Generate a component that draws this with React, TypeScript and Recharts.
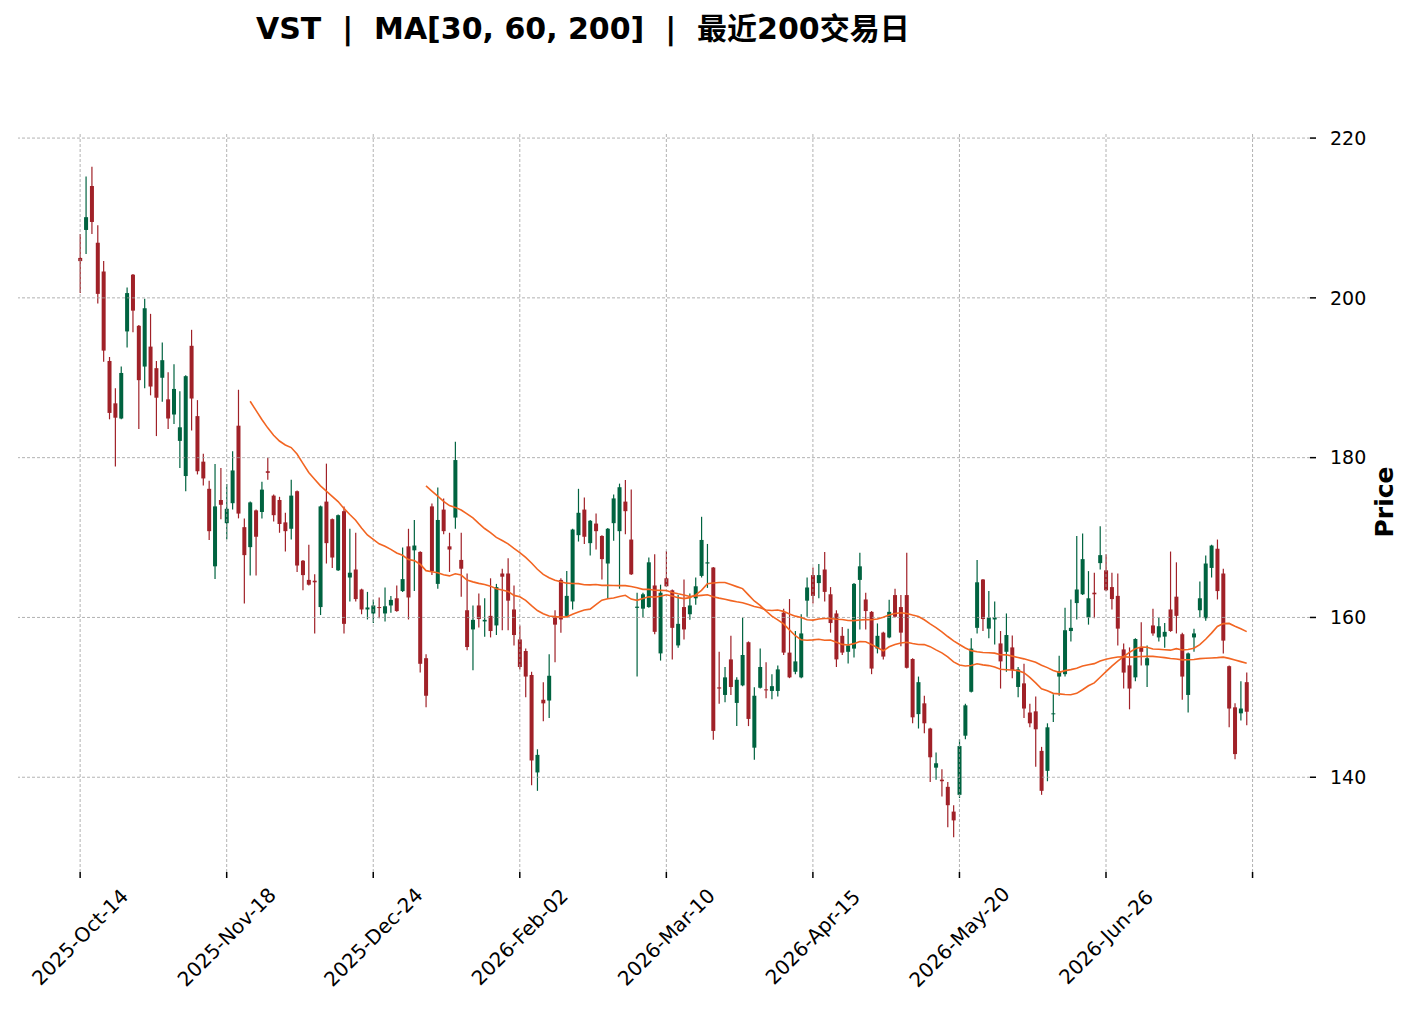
import React from "react";
import {
  ComposedChart,
  Bar,
  Line,
  XAxis,
  YAxis,
  ReferenceLine,
} from "recharts";

// OHLC, one entry per trading day (200 days)
const opens = [
  205.0, 208.5, 214.0, 206.9, 203.3, 192.1, 186.8, 184.9, 195.8, 202.9,
  196.5, 191.4, 193.9, 191.2, 190.0, 187.3, 185.4, 182.1, 177.7, 194.0,
  185.2, 179.5, 176.1, 166.4, 174.7, 171.8, 174.3, 184.0, 171.3, 168.8,
  173.4, 173.2, 178.3, 175.25, 174.7, 171.9, 171.1, 175.8, 167.1, 164.7,
  164.6, 161.3, 174.5, 172.3, 165.9, 173.3, 165.0, 166.0, 163.5, 161.0,
  160.5, 161.3, 160.5, 161.5, 162.4, 163.3, 168.9, 168.4, 168.2, 154.9,
  173.9, 164.2, 173.5, 168.9, 172.5, 167.2, 160.9, 158.5, 161.5, 159.5,
  160.2, 159.0, 165.5, 165.5, 161.0, 157.25, 155.8, 152.8, 140.6, 149.7,
  149.6, 160.0, 164.7, 160.2, 162.0, 170.3, 173.5, 169.3, 171.75, 170.2,
  166.75, 171.8, 170.8, 174.5, 169.75, 161.2, 161.1, 161.3, 164.0, 155.5,
  164.9, 163.4, 156.5, 161.3, 160.4, 162.4, 165.2, 166.75, 166.25, 151.25,
  150.3, 154.75, 149.3, 151.5, 156.9, 143.7, 151.2, 151.0, 150.8, 150.8,
  160.6, 155.6, 153.2, 152.5, 162.1, 165.3, 164.3, 166.0, 162.9, 160.5,
  157.7, 155.7, 156.1, 164.7, 162.25, 160.7, 156.1, 158.1, 157.5, 162.8,
  161.3, 162.8, 154.8, 147.9, 149.25, 146.1, 141.2, 139.7, 138.8, 135.7,
  137.8, 145.2, 150.7, 158.7, 164.75, 158.6, 159.75, 156.75, 155.7, 156.25,
  151.3, 151.75, 148.1, 148.25, 143.3, 140.8, 147.9, 152.6, 152.9, 158.3,
  161.8, 162.9, 160.0, 163.1, 166.8, 165.9, 163.8, 162.7, 156.0, 154.0,
  152.5, 156.2, 154.0, 159.0, 157.5, 157.6, 161.0, 162.6, 157.9, 150.3,
  157.5, 160.9, 159.9, 166.2, 168.6, 165.5, 153.9, 148.75, 148.0, 151.9,
];

const highs = [
  208.0, 215.2, 216.4, 209.1, 204.6, 192.6, 188.7, 191.4, 201.3, 203.0,
  196.6, 199.9, 198.0, 192.1, 194.4, 190.7, 191.7, 188.3, 190.3, 196.0,
  187.2, 180.5, 177.1, 179.2, 178.7, 176.7, 180.8, 188.5, 172.4, 174.5,
  173.5, 177.0, 180.0, 175.4, 175.1, 173.1, 177.25, 175.9, 167.2, 169.1,
  165.4, 174.0, 179.25, 172.4, 172.9, 173.9, 171.1, 170.6, 163.6, 163.2,
  162.2, 162.5, 163.75, 162.7, 164.0, 168.75, 171.1, 172.2, 168.3, 155.4,
  174.25, 176.25, 174.9, 170.6, 182.0, 170.6, 165.5, 161.5, 163.0, 162.4,
  164.9, 164.2, 166.1, 167.4, 164.0, 159.0, 156.1, 153.2, 143.5, 151.9,
  155.4, 160.9, 164.9, 165.8, 171.1, 176.1, 175.0, 172.2, 173.0, 170.3,
  171.2, 175.4, 176.75, 177.2, 176.0, 163.1, 163.1, 167.5, 167.9, 164.1,
  168.3, 163.5, 162.8, 164.75, 163.0, 165.0, 172.6, 169.2, 166.3, 155.7,
  153.8, 157.7, 152.5, 160.0, 157.0, 151.25, 156.1, 154.4, 152.9, 154.0,
  161.1, 162.3, 158.3, 160.4, 165.0, 166.25, 166.7, 168.2, 163.8, 160.9,
  158.8, 158.6, 164.3, 168.1, 163.1, 160.8, 159.25, 158.2, 162.2, 163.6,
  162.8, 168.1, 154.9, 152.6, 150.2, 146.2, 143.1, 141.0, 139.4, 136.5,
  144.75, 149.2, 157.4, 167.2, 164.8, 163.3, 162.0, 158.3, 160.5, 157.75,
  153.8, 154.2, 149.2, 150.1, 143.8, 146.75, 150.4, 155.2, 161.2, 162.25,
  170.2, 170.5, 165.8, 165.6, 171.4, 167.9, 165.6, 165.5, 156.75, 156.25,
  157.4, 159.4, 156.5, 161.1, 160.0, 159.3, 168.25, 166.9, 158.1, 155.6,
  158.6, 164.5, 167.75, 169.1, 169.75, 166.1, 154.0, 149.25, 152.0, 153.1,
];

const lows = [
  200.6, 205.5, 208.0, 199.3, 192.0, 184.8, 178.9, 184.8, 193.8, 195.7,
  183.6, 188.7, 187.8, 182.7, 187.0, 183.6, 184.2, 178.7, 175.8, 183.4,
  177.9, 176.5, 169.7, 164.8, 172.3, 169.8, 173.5, 172.4, 161.75, 165.25,
  165.25, 172.4, 177.25, 172.0, 170.6, 168.25, 169.75, 165.7, 163.4, 164.0,
  158.0, 160.3, 166.75, 166.2, 165.8, 158.0, 162.0, 162.0, 160.4, 159.75,
  159.3, 159.9, 159.5, 160.6, 160.7, 163.2, 159.75, 163.3, 153.1, 148.75,
  165.3, 163.6, 170.4, 165.7, 171.1, 162.6, 155.9, 153.4, 158.75, 157.6,
  157.5, 157.8, 158.4, 158.4, 156.5, 153.5, 150.0, 139.0, 138.3, 147.0,
  147.4, 154.4, 158.1, 160.1, 161.0, 169.5, 169.2, 167.75, 168.5, 164.75,
  162.4, 169.6, 163.6, 170.4, 165.3, 152.6, 160.0, 161.2, 157.9, 154.6,
  163.8, 154.75, 156.2, 157.25, 159.7, 161.6, 165.0, 163.7, 144.7, 149.2,
  149.4, 150.3, 146.4, 151.4, 146.4, 142.2, 151.1, 149.9, 149.75, 150.1,
  155.3, 152.4, 152.9, 152.4, 160.1, 161.75, 162.4, 162.0, 158.1, 153.8,
  155.3, 154.25, 155.0, 158.5, 158.5, 152.9, 155.5, 154.75, 157.4, 160.0,
  156.4, 153.6, 146.75, 146.1, 145.5, 139.4, 139.7, 137.6, 133.75, 132.5,
  137.4, 144.75, 150.6, 158.0, 158.3, 157.4, 156.6, 151.1, 153.2, 152.4,
  150.0, 147.4, 146.25, 141.3, 137.8, 139.5, 146.9, 150.2, 152.6, 157.0,
  159.75, 162.8, 159.1, 159.9, 166.0, 163.3, 161.0, 156.5, 151.1, 148.5,
  152.0, 154.0, 151.3, 157.7, 157.0, 156.2, 158.2, 158.0, 149.7, 148.1,
  155.7, 160.0, 159.6, 165.0, 162.25, 155.5, 146.25, 142.25, 147.1, 146.5,
];

const closes = [
  204.6, 210.1, 209.5, 200.5, 193.4, 185.6, 185.0, 190.6, 200.6, 198.4,
  189.7, 198.7, 188.9, 187.5, 192.2, 184.9, 188.6, 183.8, 190.2, 187.4,
  178.3, 177.4, 170.8, 173.9, 174.1, 173.6, 178.4, 173.0, 167.8, 174.4,
  170.1, 176.0, 178.1, 172.8, 171.7, 170.8, 175.25, 166.5, 165.3, 164.1,
  164.4, 173.9, 169.3, 167.5, 172.8, 159.2, 165.6, 162.3, 161.0, 161.25,
  161.5, 161.2, 161.4, 162.2, 160.8, 164.8, 162.5, 169.0, 154.2, 150.2,
  165.8, 172.2, 170.8, 168.5, 179.7, 166.1, 156.3, 159.7, 159.8, 159.7,
  158.3, 163.8, 165.1, 162.1, 157.8, 153.8, 152.6, 142.1, 142.8, 149.25,
  152.7, 159.1, 159.75, 162.7, 171.0, 173.1, 170.1, 172.1, 170.8, 167.3,
  171.1, 174.9, 176.3, 173.3, 165.4, 161.35, 162.9, 166.9, 158.2, 163.1,
  163.9, 158.7, 159.2, 158.5, 161.5, 163.9, 169.7, 166.9, 145.8, 151.1,
  152.5, 151.3, 152.2, 155.3, 147.3, 150.2, 153.8, 150.9, 151.4, 153.5,
  155.6, 152.5, 154.5, 158.0, 163.75, 162.7, 165.3, 163.2, 159.3, 154.75,
  155.6, 156.5, 164.2, 166.4, 160.8, 153.6, 157.7, 155.1, 160.7, 160.1,
  158.1, 153.7, 147.5, 151.9, 146.75, 142.5, 141.75, 139.5, 136.5, 134.6,
  143.9, 149.0, 156.1, 164.4, 159.8, 160.0, 160.0, 154.5, 157.8, 153.4,
  153.5, 148.6, 146.75, 146.0, 138.3, 146.25, 148.0, 153.3, 158.4, 158.7,
  163.5, 167.3, 162.4, 162.9, 167.8, 163.4, 162.3, 158.6, 153.1, 151.1,
  157.3, 155.7, 154.9, 158.0, 158.9, 158.2, 158.3, 160.2, 152.6, 155.5,
  158.0, 162.4, 166.75, 169.0, 163.3, 157.1, 148.6, 142.9, 148.6, 148.2,
];

const tickIndex = [0, 25, 50, 75, 100, 125, 150, 175, 200];
const tickLabels = [
  "2025-Oct-14",
  "2025-Nov-18",
  "2025-Dec-24",
  "2026-Feb-02",
  "2026-Mar-10",
  "2026-Apr-15",
  "2026-May-20",
  "2026-Jun-26",
  "",
];
const priceTicks = [140, 160, 180, 200, 220];

const UP = "#006340";
const DOWN = "#a02128";
const MA_COLOR = "#f26522";
const GRID = "#9e9e9e";
const FONT = "'DejaVu Sans', 'Noto Sans CJK SC', sans-serif";

function movingAverage(i: number, n: number) {
  if (i < n - 1) return null;
  let s = 0;
  for (let k = i - n + 1; k <= i; k++) s += closes[k];
  return s / n;
}

const data = closes.map((c, i) => ({
  i,
  open: opens[i],
  high: highs[i],
  low: lows[i],
  close: c,
  range: [lows[i], highs[i]],
  ma30: movingAverage(i, 30),
  ma60: movingAverage(i, 60),
}));

function Candle(props: any) {
  const { x, y, width, height, payload } = props;
  if (x == null || y == null) return null;
  const { open, close, high, low } = payload;
  const color = close >= open ? UP : DOWN;
  const top = Math.min(y, y + height);
  const h = Math.abs(height);
  const k = h / (high - low);
  const bodyTop = top + (high - Math.max(open, close)) * k;
  const bodyH = Math.max(Math.abs(open - close) * k, 1);
  const cx = x + width / 2;
  return (
    <g>
      <line x1={cx} x2={cx} y1={top} y2={top + h} stroke={color} strokeWidth={1.2} />
      <rect x={x} y={bodyTop} width={width} height={bodyH} fill={color} />
    </g>
  );
}

function DateTick(props: any) {
  const { x, y, payload } = props;
  const label = tickLabels[tickIndex.indexOf(payload.value)] ?? "";
  const cy = y + 57;
  return (
    <text
      x={x}
      y={cy}
      transform={`rotate(-45 ${x} ${cy})`}
      textAnchor="middle"
      dominantBaseline="central"
      fontSize={20}
      fontFamily={FONT}
      fill="#000"
    >
      {label}
    </text>
  );
}

export default function App() {
  return (
    <div style={{ position: "relative", width: 1396, height: 995 }}>
      <ComposedChart
        width={1396}
        height={995}
        data={data}
        margin={{ top: 124, left: 10, right: 14, bottom: 21 }}
      >
        <XAxis
          type="number"
          dataKey="i"
          domain={[-10.6, 209.8]}
          allowDataOverflow
          ticks={tickIndex}
          interval={0}
          axisLine={false}
          tickLine={{ stroke: "#000", strokeWidth: 1.5 }}
          tickSize={6}
          height={110}
          tick={<DateTick />}
        />
        <YAxis
          orientation="right"
          domain={[128.14, 220.76]}
          allowDataOverflow
          ticks={priceTicks}
          axisLine={false}
          tickLine={{ stroke: "#000", strokeWidth: 1.5 }}
          tickSize={6}
          tickMargin={14}
          width={80}
          tick={{ fontSize: 19, fill: "#000", fontFamily: FONT }}
        />
        {priceTicks.map((p) => (
          <ReferenceLine
            key={`h${p}`}
            y={p}
            stroke={GRID}
            strokeDasharray="3 2"
            strokeWidth={0.8}
          />
        ))}
        {tickIndex.map((t) => (
          <ReferenceLine
            key={`v${t}`}
            x={t}
            stroke={GRID}
            strokeDasharray="3 2"
            strokeWidth={0.8}
          />
        ))}
        <Bar
          dataKey="range"
          barSize={4}
          shape={(p: any) => <Candle {...p} />}
          isAnimationActive={false}
        />
        <Line
          type="linear"
          dataKey="ma30"
          stroke={MA_COLOR}
          strokeWidth={1.6}
          dot={false}
          activeDot={false}
          isAnimationActive={false}
        />
        <Line
          type="linear"
          dataKey="ma60"
          stroke={MA_COLOR}
          strokeWidth={1.6}
          dot={false}
          activeDot={false}
          isAnimationActive={false}
        />
      </ComposedChart>
      <svg
        width={1396}
        height={995}
        style={{ position: "absolute", left: 0, top: 0, pointerEvents: "none" }}
      >
        <text
          x={248}
          y={30.7}
          fontSize={30}
          fontWeight="bold"
          fontFamily={FONT}
          fill="#000"
          style={{ whiteSpace: "pre" }}
        >
          {"VST  |  MA[30, 60, 200]  |  最近200交易日"}
        </text>
        <text
          x={1376}
          y={494}
          transform="rotate(-90 1376 494)"
          textAnchor="middle"
          dominantBaseline="central"
          fontSize={25}
          fontWeight="bold"
          fontFamily={FONT}
          fill="#000"
        >
          Price
        </text>
      </svg>
    </div>
  );
}
